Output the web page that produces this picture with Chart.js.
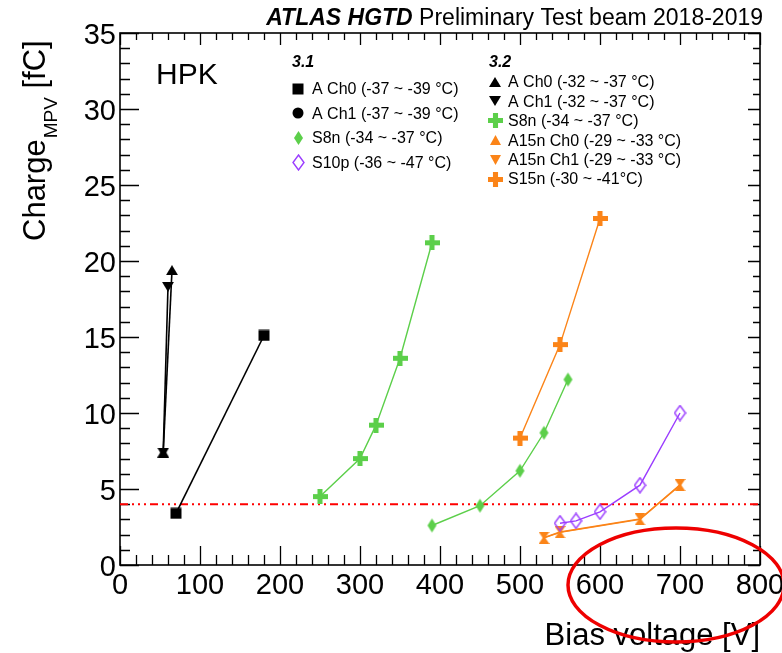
<!DOCTYPE html>
<html>
<head>
<meta charset="utf-8">
<script src="https://cdn.jsdelivr.net/npm/chart.js@4.4.1/dist/chart.umd.min.js"></script>
<style>
  html, body { margin: 0; padding: 0; background: #fff; }
  #wrap { width: 782px; height: 653px; position: relative; }
</style>
</head>
<body>
<div id="wrap"><canvas id="chart"></canvas></div>
<script>
const FONT = '"Liberation Sans", Arial, Helvetica, sans-serif';

const xTicks = [0, 100, 200, 300, 400, 500, 600, 700, 800];
const yTicks = [0, 5, 10, 15, 20, 25, 30, 35];

// sensor version 3.1
const aCh0Bias31 = [70, 180];
const aCh0Charge31 = [3.4, 15.1];
const aCh1Bias31 = [];
const aCh1Charge31 = [];
const s8nBias31 = [390, 450, 500, 530, 560];
const s8nCharge31 = [2.6, 3.9, 6.2, 8.7, 12.2];
const s10pBias31 = [550, 570, 600, 650, 700];
const s10pCharge31 = [2.75, 2.9, 3.5, 5.25, 10.0];

// sensor version 3.2
const aCh0Bias32 = [54, 65];
const aCh0Charge32 = [7.4, 19.4];
const aCh1Bias32 = [54, 60];
const aCh1Charge32 = [7.4, 18.3];
const s8nBias32 = [250, 300, 320, 350, 390];
const s8nCharge32 = [4.5, 7.0, 9.2, 13.6, 21.2];
const a15nCh0Bias32 = [530, 550, 650, 700];
const a15nCh0Charge32 = [1.78, 2.15, 3.0, 5.25];
const a15nCh1Bias32 = [530, 550, 650, 700];
const a15nCh1Charge32 = [1.8, 2.17, 3.03, 5.27];
const s15nBias32 = [500, 550, 600];
const s15nCharge32 = [8.35, 14.5, 22.8];

const thresholdBias = [0, 800];
const thresholdCharge = [4, 4];

const BLACK = '#000000';
const GREEN = '#5ccf4a';
const ORANGE = '#fb8418';
const PURPLE = '#9a3cff';

// shift moves the glyph inside its canvas (used to stack the orange triangles into an hourglass)
function makeMarker(shape, color, w, h, filled = true, shift = 0) {
  const c = document.createElement('canvas');
  c.width = w;
  c.height = h + Math.abs(shift) * 2;
  const g = c.getContext('2d');
  g.translate(0, Math.abs(shift) + shift);
  g.fillStyle = color;
  g.strokeStyle = color;
  g.lineWidth = 1.4;
  g.beginPath();
  if (shape === 'square') {
    g.rect(0.5, 0.5, w - 1, h - 1);
  } else if (shape === 'circle') {
    g.arc(w / 2, h / 2, w / 2 - 0.5, 0, Math.PI * 2);
  } else if (shape === 'diamond') {
    g.moveTo(w / 2, 1);
    g.lineTo(w - 1, h / 2);
    g.lineTo(w / 2, h - 1);
    g.lineTo(1, h / 2);
    g.closePath();
  } else if (shape === 'triUp') {
    g.moveTo(w / 2, 0);
    g.lineTo(w, h);
    g.lineTo(0, h);
    g.closePath();
  } else if (shape === 'triDown') {
    g.moveTo(0, 0);
    g.lineTo(w, 0);
    g.lineTo(w / 2, h);
    g.closePath();
  } else if (shape === 'plus') {
    const t = w * 0.34;
    const a = (w - t) / 2;
    g.rect(a, 0, t, h);
    g.rect(0, a, w, t);
  }
  if (filled) g.fill(); else g.stroke();
  return c;
}

function points(xs, ys) {
  return xs.map((x, i) => ({ x, y: ys[i] }));
}

function series(label, group, xs, ys, color, marker, legendMarker, lineWidth = 1.4) {
  return {
    label,
    group,
    legendMarker,
    data: points(xs, ys),
    borderColor: color,
    backgroundColor: color,
    borderWidth: lineWidth,
    pointStyle: marker,
    pointRadius: 7,
    pointHoverRadius: 7,
    showLine: true,
    tension: 0,
  };
}

const squareBlack = makeMarker('square', BLACK, 12, 12);
const circleBlack = makeMarker('circle', BLACK, 12, 12);
const diamondGreen = makeMarker('diamond', GREEN, 11, 16);
const diamondPurple = makeMarker('diamond', PURPLE, 13, 17, false);
const triUpBlack = makeMarker('triUp', BLACK, 12, 10);
const triDownBlack = makeMarker('triDown', BLACK, 12, 10);
const plusGreen = makeMarker('plus', GREEN, 15, 15);
const plusOrange = makeMarker('plus', ORANGE, 15, 15);

const datasets = [
  series('A Ch0 (-37 ~ -39 \u00b0C)', '3.1', aCh0Bias31, aCh0Charge31, BLACK, squareBlack, squareBlack, 1.6),
  series('A Ch1 (-37 ~ -39 \u00b0C)', '3.1', aCh1Bias31, aCh1Charge31, BLACK, circleBlack, circleBlack, 1.6),
  series('S8n (-34 ~ -37 \u00b0C)', '3.1', s8nBias31, s8nCharge31, GREEN, diamondGreen, diamondGreen),
  series('S10p (-36 ~ -47 \u00b0C)', '3.1', s10pBias31, s10pCharge31, PURPLE, diamondPurple, diamondPurple),
  series('A Ch0 (-32 ~ -37 \u00b0C)', '3.2', aCh0Bias32, aCh0Charge32, BLACK, triUpBlack, triUpBlack, 1.6),
  series('A Ch1 (-32 ~ -37 \u00b0C)', '3.2', aCh1Bias32, aCh1Charge32, BLACK, triDownBlack, triDownBlack, 1.6),
  series('S8n (-34 ~ -37 \u00b0C)', '3.2', s8nBias32, s8nCharge32, GREEN, plusGreen, plusGreen),
  series('A15n Ch0 (-29 ~ -33 \u00b0C)', '3.2', a15nCh0Bias32, a15nCh0Charge32, ORANGE,
    makeMarker('triUp', ORANGE, 11, 8, true, 2), makeMarker('triUp', ORANGE, 11, 10)),
  series('A15n Ch1 (-29 ~ -33 \u00b0C)', '3.2', a15nCh1Bias32, a15nCh1Charge32, ORANGE,
    makeMarker('triDown', ORANGE, 11, 8, true, -2), makeMarker('triDown', ORANGE, 11, 10)),
  series('S15n (-30 ~ -41\u00b0C)', '3.2', s15nBias32, s15nCharge32, ORANGE, plusOrange, plusOrange),
  {
    label: 'threshold',
    data: points(thresholdBias, thresholdCharge),
    borderColor: '#ff0000',
    borderWidth: 2,
    borderDash: [8, 4, 2, 4, 2, 4, 2, 4],
    pointRadius: 0,
    showLine: true,
  },
];

// frame with ROOT style inward ticks on all four sides
const framePlugin = {
  id: 'frame',
  beforeDatasetsDraw(chart) {
    const { ctx, chartArea: a, scales: { x, y } } = chart;
    ctx.save();
    ctx.strokeStyle = '#000';
    ctx.lineWidth = 1.3;
    ctx.beginPath();
    for (let i = 0; i < xTicks.length; i += 1) {
      for (let m = 0; m < 5; m += 1) {
        if (i === xTicks.length - 1 && m > 0) break;
        const v = xTicks[i] + m * 20;
        const px = Math.round(x.getPixelForValue(v)) + 0.5;
        const len = m === 0 ? 19 : 10;
        ctx.moveTo(px, a.bottom);
        ctx.lineTo(px, a.bottom - len);
        ctx.moveTo(px, a.top);
        ctx.lineTo(px, a.top + (m === 0 ? 12 : 7));
      }
    }
    for (let i = 0; i < yTicks.length; i += 1) {
      for (let m = 0; m < 5; m += 1) {
        if (i === yTicks.length - 1 && m > 0) break;
        const v = yTicks[i] + m;
        const py = Math.round(y.getPixelForValue(v)) + 0.5;
        const len = m === 0 ? 19 : 10;
        ctx.moveTo(a.left, py);
        ctx.lineTo(a.left + len, py);
        ctx.moveTo(a.right, py);
        ctx.lineTo(a.right - (m === 0 ? 12 : 7), py);
      }
    }
    ctx.stroke();
    ctx.lineWidth = 1.6;
    ctx.strokeRect(a.left, a.top, a.right - a.left, a.bottom - a.top);
    ctx.restore();
  },
};

const textPlugin = {
  id: 'texts',
  afterDraw(chart) {
    const { ctx, chartArea: a, scales: { x } } = chart;
    ctx.save();
    ctx.fillStyle = '#000';
    ctx.textBaseline = 'alphabetic';

    // header
    ctx.font = `23px ${FONT}`;
    ctx.textAlign = 'right';
    const rest = ' Preliminary Test beam 2018-2019';
    ctx.fillText(rest, 763, 25);
    const restW = ctx.measureText(rest).width;
    ctx.font = `italic bold 23px ${FONT}`;
    ctx.fillText('ATLAS HGTD', 763 - restW, 25);

    // HPK
    ctx.textAlign = 'left';
    ctx.font = `30px ${FONT}`;
    ctx.fillText('HPK', 156, 84);

    // y axis title with subscript
    ctx.save();
    ctx.translate(45, 241);
    ctx.rotate(-Math.PI / 2);
    ctx.font = `31px ${FONT}`;
    ctx.fillText('Charge', 0, 0);
    let w = ctx.measureText('Charge').width;
    ctx.font = `19px ${FONT}`;
    ctx.fillText('MPV', w + 1, 12);
    w += 1 + ctx.measureText('MPV').width;
    ctx.font = `31px ${FONT}`;
    ctx.fillText(' [fC]', w, 0);
    ctx.restore();

    // legend, two columns
    const columns = [
      { group: '3.1', x: 292, markerX: 298, textX: 312, y0: 89, step: 24.4 },
      { group: '3.2', x: 489, markerX: 495, textX: 508, y0: 82, step: 19.4 },
    ];
    columns.forEach((col) => {
      ctx.font = `italic bold 16px ${FONT}`;
      ctx.textBaseline = 'middle';
      ctx.fillText(col.group, col.x, 63);
      ctx.font = `16px ${FONT}`;
      let row = 0;
      chart.data.datasets.forEach((ds) => {
        if (ds.group !== col.group) return;
        const cy = col.y0 + row * col.step;
        const img = ds.legendMarker;
        ctx.drawImage(img, Math.round(col.markerX - img.width / 2), Math.round(cy - img.height / 2));
        ctx.fillText(ds.label, col.textX, cy + 1);
        row += 1;
      });
    });

    // hand drawn red ellipse
    const cx = x.getPixelForValue(695);
    ctx.strokeStyle = '#ee0000';
    ctx.lineWidth = 3.5;
    ctx.beginPath();
    ctx.ellipse(cx, a.bottom + 20, 108, 57, 0, 0, Math.PI * 2);
    ctx.stroke();
    ctx.restore();
  },
};

new Chart(document.getElementById('chart'), {
  type: 'scatter',
  data: { datasets },
  options: {
    responsive: true,
    maintainAspectRatio: false,
    animation: false,
    events: [],
    layout: { autoPadding: false, padding: { left: 0, right: 22, top: 33, bottom: 0 } },
    plugins: {
      legend: { display: false },
      tooltip: { enabled: false },
    },
    scales: {
      x: {
        type: 'linear',
        min: 0,
        max: 800,
        grid: { display: false, drawTicks: false },
        border: { display: false },
        afterFit: (s) => {
          s.height = 88;
          s.paddingLeft = 0;
          s.paddingRight = 0;
        },
        afterBuildTicks: (s) => { s.ticks = xTicks.map((v) => ({ value: v })); },
        ticks: {
          autoSkip: false,
          maxRotation: 0,
          padding: 4,
          color: '#000',
          font: { family: FONT, size: 29 },
        },
        title: {
          display: true,
          text: 'Bias voltage [V]',
          align: 'end',
          color: '#000',
          padding: { top: 0, bottom: -2 },
          font: { family: FONT, size: 31 },
        },
      },
      y: {
        type: 'linear',
        min: 0,
        max: 35,
        grid: { display: false, drawTicks: false },
        border: { display: false },
        afterFit: (s) => {
          s.width = 120;
          s.paddingTop = 0;
          s.paddingBottom = 0;
        },
        afterBuildTicks: (s) => { s.ticks = yTicks.map((v) => ({ value: v })); },
        ticks: {
          padding: 4,
          labelOffset: 3,
          color: '#000',
          font: { family: FONT, size: 29 },
        },
      },
    },
  },
  plugins: [framePlugin, textPlugin],
});
</script>
</body>
</html>
